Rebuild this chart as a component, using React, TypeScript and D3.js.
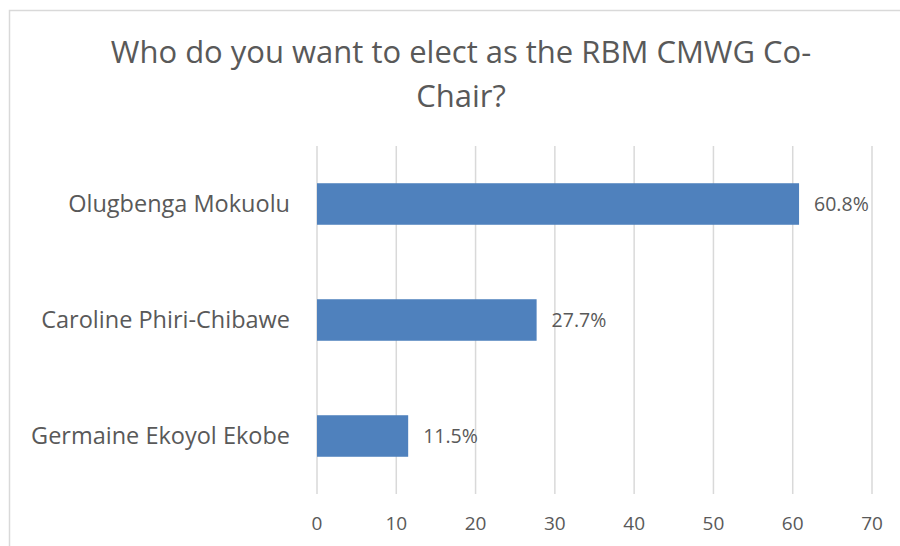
import { useMemo } from "react";
import * as d3 from "d3";

// Poll result: horizontal bar chart, Excel-style.
const candidates = ["Olugbenga Mokuolu", "Caroline Phiri-Chibawe", "Germaine Ekoyol Ekobe"];
const shares = [60.8, 27.7, 11.5];
const xTicks = [0, 10, 20, 30, 40, 50, 60, 70];
const titleLines = ["Who do you want to elect as the RBM CMWG Co-", "Chair?"];

const W = 900;
const H = 546;
const FONT = "'Open Sans', 'Noto Sans', sans-serif";
const TEXT = "#595959";
const GRID = "#D9D9D9";
const BAR = "#4F81BD";

export default function App() {
  const x = useMemo(() => d3.scaleLinear().domain([0, 70]).range([317, 872]), []);
  const y = useMemo(
    () =>
      d3
        .scaleBand<string>()
        .domain(candidates)
        .range([146, 494])
        .paddingInner(0.642)
        .paddingOuter(0.321),
    []
  );

  return (
    <svg
      width={W}
      height={H}
      viewBox={`0 0 ${W} ${H}`}
      style={{ position: "absolute", left: 0, top: 0, background: "#fff" }}
      fontFamily={FONT}
    >
      {/* chart frame, runs off the right/bottom edge like the screenshot */}
      <rect x={9.5} y={10.5} width={W + 20} height={H + 20} fill="#fff" stroke={GRID} strokeWidth={1.5} />

      {titleLines.map((t, i) => (
        <text key={i} x={461} y={63 + i * 44} textAnchor="middle" fontSize={31} fill={TEXT}>
          {t}
        </text>
      ))}

      {/* vertical gridlines */}
      {xTicks.map((t) => (
        <line key={t} x1={x(t)} x2={x(t)} y1={146} y2={494} stroke={GRID} strokeWidth={1.5} />
      ))}

      {candidates.map((c, i) => {
        const yb = y(c) ?? 0;
        const bw = y.bandwidth();
        const cy = yb + bw / 2;
        return (
          <g key={c}>
            <rect x={x(0)} y={yb} width={x(shares[i]) - x(0)} height={bw} fill={BAR} />
            <text x={290} y={cy} dy="0.35em" textAnchor="end" fontSize={23.5} fill={TEXT}>
              {c}
            </text>
            <text x={x(shares[i]) + 15} y={cy} dy="0.35em" fontSize={19.5} fill={TEXT}>
              {shares[i].toFixed(1)}%
            </text>
          </g>
        );
      })}

      {xTicks.map((t) => (
        <text key={t} x={x(t)} y={523} dy="0.35em" textAnchor="middle" fontSize={19} fill={TEXT}>
          {t}
        </text>
      ))}
    </svg>
  );
}
